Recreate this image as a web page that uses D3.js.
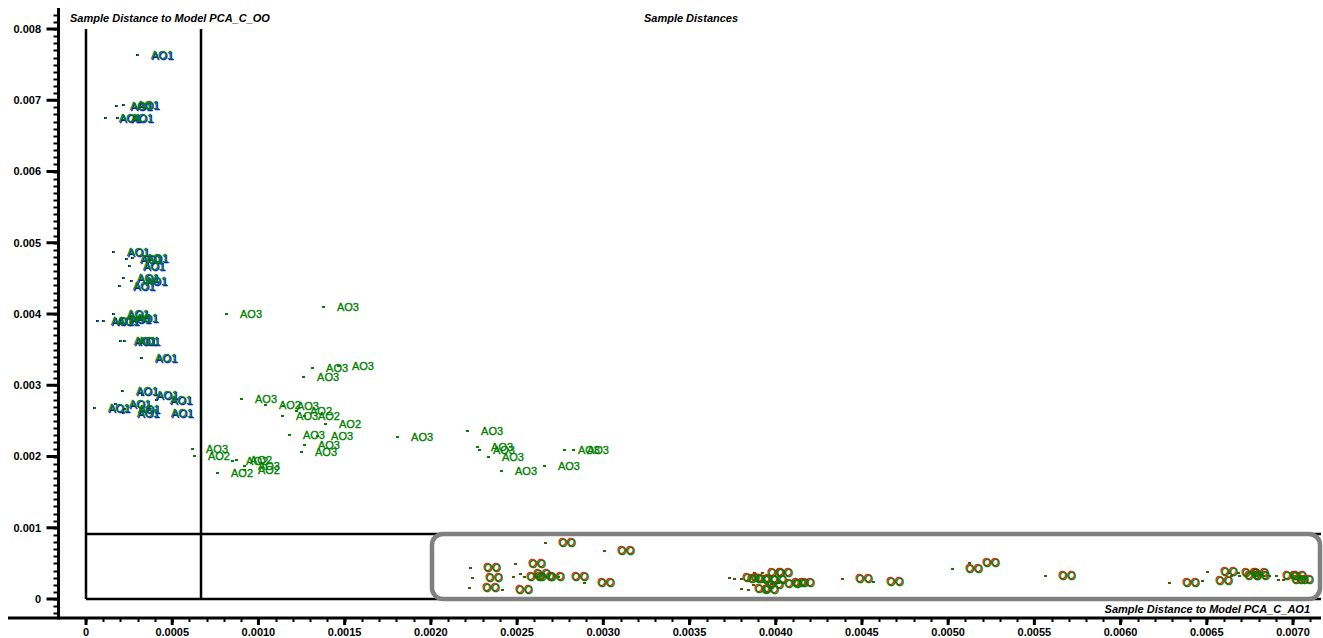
<!DOCTYPE html>
<html>
<head>
<meta charset="utf-8">
<script src="https://cdn.jsdelivr.net/npm/d3@7"></script>
<style>
  html, body { margin: 0; padding: 0; background: #fff; }
  svg { display: block; font-family: "Liberation Sans", Arial, sans-serif; }
</style>
</head>
<body>
<svg id="chart" width="1323" height="638"></svg>
<script>
// Sample distances: x = distance to model PCA_C_AO1, y = distance to model PCA_C_OO
const ao1X = [0.000296, 0.000174, 0.000215, 0.000110, 0.000180, 0.000157, 0.000232, 0.000267, 0.000249, 0.000215,
              0.000261, 0.000191, 0.000064, 0.000099, 0.000157, 0.000168, 0.000209, 0.000197, 0.000220, 0.000319,
              0.000209, 0.000325, 0.000406, 0.000046, 0.000168, 0.000220, 0.000215, 0.000412];
const ao1Y = [0.007635, 0.006919, 0.006933, 0.006751, 0.006751, 0.004870, 0.004772, 0.004786, 0.004674, 0.004505,
              0.004463, 0.004393, 0.003902, 0.003902, 0.004000, 0.003930, 0.003944, 0.003621, 0.003621, 0.003382,
              0.002919, 0.002863, 0.002793, 0.002681, 0.002737, 0.002667, 0.002610, 0.002610];

const ao2X = [0.001038, 0.001218, 0.001264, 0.001386, 0.000626, 0.000760, 0.000847, 0.000870, 0.000916];
const ao2Y = [0.002723, 0.002639, 0.002568, 0.002456, 0.002007, 0.001768, 0.001937, 0.001951, 0.001811];

const ao3X = [0.000812, 0.001374, 0.001311, 0.001461, 0.001259, 0.000899, 0.001142, 0.001137, 0.001177, 0.001340,
              0.001804, 0.001264, 0.001247, 0.000615, 0.000916, 0.002210, 0.002268, 0.002279, 0.002331, 0.002407,
              0.002656, 0.002772, 0.002824];
const ao3Y = [0.004000, 0.004098, 0.003242, 0.003270, 0.003116, 0.002807, 0.002709, 0.002568, 0.002302, 0.002288,
              0.002274, 0.002161, 0.002063, 0.002105, 0.001867, 0.002358, 0.002133, 0.002091, 0.001993, 0.001796,
              0.001867, 0.002091, 0.002091];

const ooX = [0.002662, 0.003004, 0.002227, 0.002488, 0.002239, 0.002221, 0.002413, 0.002476, 0.002517, 0.002540,
             0.002598, 0.002737, 0.002888, 0.003729, 0.003758, 0.003799, 0.003839, 0.003874, 0.003886, 0.003920,
             0.003973, 0.004013, 0.004048, 0.003799, 0.003839, 0.003868, 0.004384, 0.004564, 0.005022, 0.005121,
             0.005562, 0.006281, 0.006472, 0.006501, 0.006623, 0.006640, 0.006681, 0.006687, 0.006861, 0.006901,
             0.006913, 0.006942];
const ooY = [0.000786, 0.000674, 0.000435, 0.000491, 0.000295, 0.000154, 0.000126, 0.000309, 0.000351, 0.000309,
             0.000309, 0.000309, 0.000225, 0.000295, 0.000281, 0.000281, 0.000267, 0.000365, 0.000267, 0.000365,
             0.000211, 0.000225, 0.000225, 0.000140, 0.000126, 0.000196, 0.000281, 0.000239, 0.000421, 0.000505,
             0.000323, 0.000225, 0.000253, 0.000379, 0.000365, 0.000323, 0.000365, 0.000323, 0.000323, 0.000323,
             0.000267, 0.000267];

const xTickValues = [0, 0.0005, 0.0010, 0.0015, 0.0020, 0.0025, 0.0030, 0.0035, 0.0040, 0.0045, 0.0050, 0.0055, 0.0060, 0.0065, 0.0070];
const xTickLabels = ["0", "0.0005", "0.0010", "0.0015", "0.0020", "0.0025", "0.0030", "0.0035", "0.0040", "0.0045", "0.0050", "0.0055", "0.0060", "0.0065", "0.0070"];
const yTickValues = [0, 0.001, 0.002, 0.003, 0.004, 0.005, 0.006, 0.007, 0.008];
const yTickLabels = ["0", "0.001", "0.002", "0.003", "0.004", "0.005", "0.006", "0.007", "0.008"];

// critical limits for the two models
const limitX = 0.000667;
const limitY = 0.000913;

const svg = d3.select("#chart");
const x = d3.scaleLinear().domain([0, 0.007]).range([86, 1293]);
const y = d3.scaleLinear().domain([0, 0.008]).range([599, 29]);

const GREEN = "#008000", BLUE = "#0000ff", RED = "#ff0000";

// ----- axes (frame drawn with its own lines, ticks from the scales) -----
const axisX = 58.5, axisY = 618;
svg.append("line").attr("x1", axisX).attr("x2", axisX).attr("y1", 8).attr("y2", axisY + 1.5)
  .attr("stroke", "#000").attr("stroke-width", 3);
svg.append("line").attr("x1", 8).attr("x2", 1321).attr("y1", axisY).attr("y2", axisY)
  .attr("stroke", "#000").attr("stroke-width", 3);

const yMinor = d3.range(-2, 83).map(i => i * 0.0001);
svg.append("g").selectAll("line").data(yMinor).join("line")
  .attr("x1", axisX - 5).attr("x2", axisX)
  .attr("y1", d => Math.round(y(d)) + 0.5).attr("y2", d => Math.round(y(d)) + 0.5)
  .attr("stroke", "#000").attr("stroke-width", 2);
svg.append("g").selectAll("line").data(yTickValues).join("line")
  .attr("x1", axisX - 12).attr("x2", axisX)
  .attr("y1", d => y(d)).attr("y2", d => y(d))
  .attr("stroke", "#000").attr("stroke-width", 3);
svg.append("g").selectAll("text").data(yTickValues).join("text")
  .attr("x", 41).attr("y", d => y(d)).attr("dy", "0.35em")
  .attr("text-anchor", "end").attr("font-size", 11).attr("font-weight", "bold")
  .text((d, i) => yTickLabels[i]);

const xMinor = d3.range(0, 72).map(i => i * 0.0001);
svg.append("g").selectAll("line").data(xMinor).join("line")
  .attr("x1", d => Math.round(x(d)) + 0.5).attr("x2", d => Math.round(x(d)) + 0.5)
  .attr("y1", axisY).attr("y2", axisY + 4)
  .attr("stroke", "#000").attr("stroke-width", 2);
svg.append("g").selectAll("line").data(xTickValues).join("line")
  .attr("x1", d => x(d)).attr("x2", d => x(d))
  .attr("y1", axisY).attr("y2", axisY + 7)
  .attr("stroke", "#000").attr("stroke-width", 3);
svg.append("g").selectAll("text").data(xTickValues).join("text")
  .attr("x", d => x(d)).attr("y", 632).attr("dy", "0.35em")
  .attr("text-anchor", "middle").attr("font-size", 11).attr("font-weight", "bold")
  .text((d, i) => xTickLabels[i]);

// ----- zero lines and critical limits -----
const lineStyle = sel => sel.attr("stroke", "#000").attr("stroke-width", 2.5);
svg.append("line").attr("x1", x(0)).attr("x2", x(0)).attr("y1", y(0.008)).attr("y2", y(0)).call(lineStyle);
svg.append("line").attr("x1", x(limitX)).attr("x2", x(limitX)).attr("y1", y(0.008)).attr("y2", y(0)).call(lineStyle);
svg.append("line").attr("x1", x(0)).attr("x2", 1321).attr("y1", y(0)).attr("y2", y(0)).call(lineStyle);
svg.append("line").attr("x1", x(0)).attr("x2", 1321).attr("y1", y(limitY)).attr("y2", y(limitY)).call(lineStyle);

// ----- titles -----
const titleStyle = sel => sel.attr("font-size", 11).attr("font-weight", "bold").attr("font-style", "italic");
svg.append("text").attr("x", 70).attr("y", 22).text("Sample Distance to Model PCA_C_OO").call(titleStyle);
svg.append("text").attr("x", 691).attr("y", 22).attr("text-anchor", "middle").text("Sample Distances").call(titleStyle);
svg.append("text").attr("x", 1310).attr("y", 613).attr("text-anchor", "end").text("Sample Distance to Model PCA_C_AO1").call(titleStyle);

// ----- samples -----
const LABEL_DX = 14;
function drawClass(xs, ys, label, shadowColor, markColors, shadowOffset) {
  const pts = xs.map((v, i) => ({ x: v, y: ys[i] }));
  const g = svg.append("g");
  // markers: short dashes
  markColors.forEach((c, k) => {
    g.append("g").selectAll("rect").data(pts).join("rect")
      .attr("x", d => Math.round(x(d.x)) - 1 + k).attr("y", d => Math.round(y(d.y)) - 1)
      .attr("width", 3 - k).attr("height", 2).attr("fill", c);
  });
  // label shadow then label
  if (shadowColor) {
    g.append("g").selectAll("text").data(pts).join("text")
      .attr("x", d => x(d.x) + LABEL_DX + shadowOffset[0]).attr("y", d => y(d.y) + shadowOffset[1])
      .attr("dy", "0.35em").attr("font-size", 11).attr("fill", shadowColor)
      .attr("stroke", shadowColor).attr("stroke-width", 0.3)
      .text(label);
  }
  g.append("g").selectAll("text").data(pts).join("text")
    .attr("x", d => x(d.x) + LABEL_DX).attr("y", d => y(d.y))
    .attr("dy", "0.35em").attr("font-size", 11).attr("fill", GREEN)
    .attr("stroke", GREEN).attr("stroke-width", 0.35)
    .text(label);
}

drawClass(ao3X, ao3Y, "AO3", null, [GREEN], null);
drawClass(ao2X, ao2Y, "AO2", null, [GREEN], null);
drawClass(ao1X, ao1Y, "AO1", BLUE, [BLUE, GREEN], [1, 0.7]);
drawClass(ooX, ooY, "OO", RED, [RED, GREEN], [-0.7, -0.5]);

// ----- highlight box around the OO group -----
svg.append("rect")
  .attr("x", 432).attr("y", y(limitY))
  .attr("width", 1320 - 432).attr("height", y(0) - y(limitY))
  .attr("rx", 11).attr("ry", 11)
  .attr("fill", "none").attr("stroke", "#808080").attr("stroke-width", 4.5);
</script>
</body>
</html>
